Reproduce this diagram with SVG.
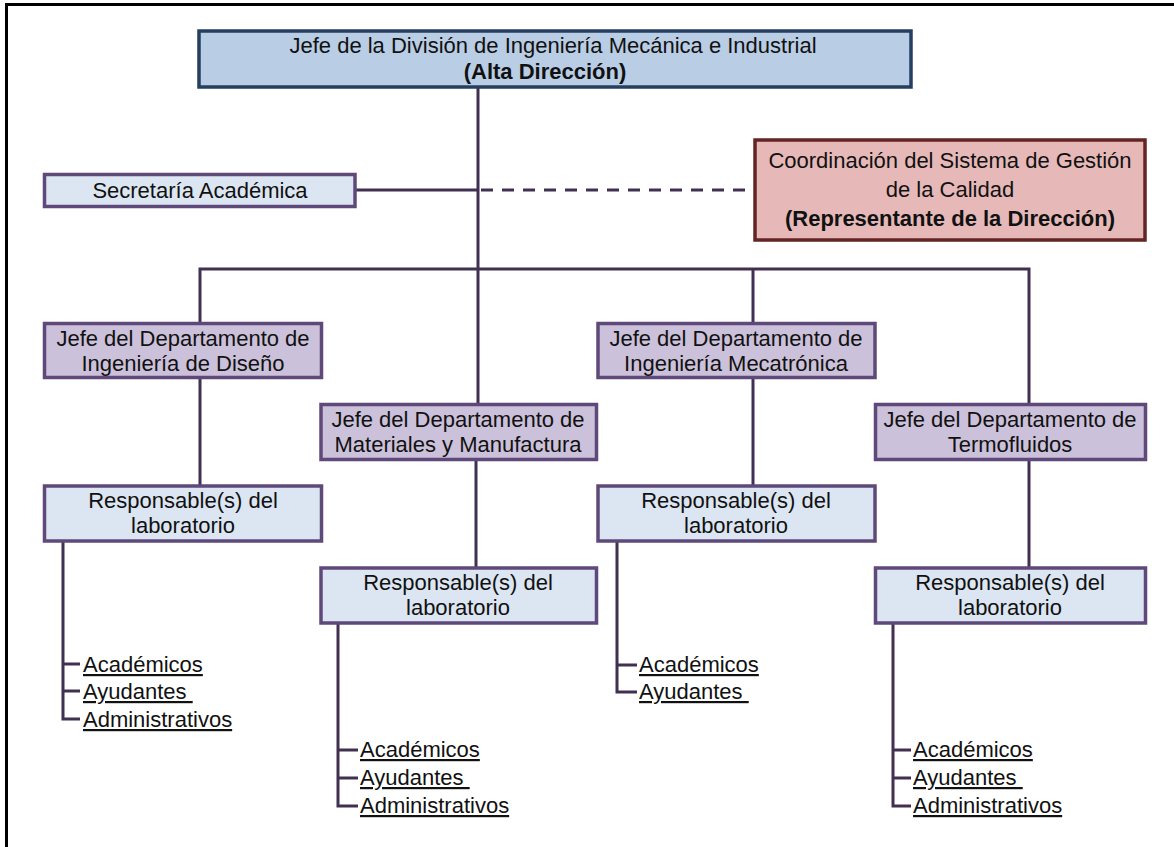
<svg xmlns="http://www.w3.org/2000/svg" width="1174" height="847" viewBox="0 0 1174 847">
  <style>
    text { font-family: "Liberation Sans", Arial, sans-serif; font-size: 22px; fill: #111; }
    .c { text-anchor: middle; }
    .b { font-weight: bold; }
    .u { text-decoration: underline; }
    .top { fill: #b9cde5; stroke: #243f60; stroke-width: 3.5; }
    .light { fill: #dce6f2; stroke: #5f497a; stroke-width: 3.5; }
    .dept { fill: #ccc1da; stroke: #5f497a; stroke-width: 3.5; }
    .rep { fill: #e6b9b8; stroke: #632523; stroke-width: 3.5; }
    .ln { fill: none; stroke: #403152; stroke-width: 3; }
    .dash { fill: none; stroke: #403152; stroke-width: 3; stroke-dasharray: 12 9; }
  </style>

  <rect width="1174" height="847" fill="#fff"/>
  <!-- page frame (top and left edges) -->
  <path d="M6.5 847 V4.5 H1174" fill="none" stroke="#000" stroke-width="3"/>

  <!-- connectors -->
  <g id="connectors">
    <path class="ln" d="M478 87 V404"/>
    <path class="ln" d="M356 190 H478"/>
    <path class="dash" d="M481 190 H754"/>
    <path class="ln" d="M200 323 V269 H1029 V404"/>
    <path class="ln" d="M753 269 V323"/>
    <path class="ln" d="M200 377 V486"/>
    <path class="ln" d="M476 460 V568"/>
    <path class="ln" d="M753 377 V486"/>
    <path class="ln" d="M1029 460 V568"/>
    <!-- staff lists -->
    <path class="ln" d="M63 541 V719 H80 M63 664 H80 M63 691 H80"/>
    <path class="ln" d="M338 623 V806 H358 M338 750 H358 M338 778 H358"/>
    <path class="ln" d="M617 541 V692 H637 M617 665 H637"/>
    <path class="ln" d="M893 623 V806 H911 M893 750 H911 M893 778 H911"/>
  </g>

  <g id="jefe-division">
    <rect class="top" x="199" y="31" width="712" height="56"/>
    <text class="c" x="553" y="53">Jefe de la División de Ingeniería Mecánica e Industrial</text>
    <text class="c b" x="545" y="79">(Alta Dirección)</text>
  </g>

  <g id="secretaria">
    <rect class="light" x="44.5" y="174.5" width="310.5" height="32"/>
    <text class="c" x="200" y="198">Secretaría Académica</text>
  </g>

  <g id="coordinacion">
    <rect class="rep" x="755" y="140" width="390" height="100"/>
    <text class="c" x="950" y="168">Coordinación del Sistema de Gestión</text>
    <text class="c" x="950" y="197">de la Calidad</text>
    <text class="c b" x="950" y="226">(Representante de la Dirección)</text>
  </g>

  <g id="depto-diseno">
    <rect class="dept" x="44.5" y="323.5" width="277" height="54"/>
    <text class="c" x="183" y="346">Jefe del Departamento de</text>
    <text class="c" x="183" y="371">Ingeniería de Diseño</text>
  </g>

  <g id="depto-materiales">
    <rect class="dept" x="321" y="404.5" width="275.5" height="55"/>
    <text class="c" x="458" y="427">Jefe del Departamento de</text>
    <text class="c" x="458" y="452">Materiales y Manufactura</text>
  </g>

  <g id="depto-mecatronica">
    <rect class="dept" x="598" y="323.5" width="277" height="54"/>
    <text class="c" x="736" y="346">Jefe del Departamento de</text>
    <text class="c" x="736" y="371">Ingeniería Mecatrónica</text>
  </g>

  <g id="depto-termofluidos">
    <rect class="dept" x="875.5" y="404.5" width="270" height="55"/>
    <text class="c" x="1010" y="427">Jefe del Departamento de</text>
    <text class="c" x="1010" y="452">Termofluidos</text>
  </g>

  <g id="lab-diseno">
    <rect class="light" x="44.5" y="486" width="277" height="55"/>
    <text class="c" x="183" y="508">Responsable(s) del</text>
    <text class="c" x="183" y="533">laboratorio</text>
  </g>

  <g id="lab-materiales">
    <rect class="light" x="321" y="568" width="275.5" height="55"/>
    <text class="c" x="458" y="590">Responsable(s) del</text>
    <text class="c" x="458" y="615">laboratorio</text>
  </g>

  <g id="lab-mecatronica">
    <rect class="light" x="598" y="486" width="277" height="55"/>
    <text class="c" x="736" y="508">Responsable(s) del</text>
    <text class="c" x="736" y="533">laboratorio</text>
  </g>

  <g id="lab-termofluidos">
    <rect class="light" x="875.5" y="568" width="270" height="55"/>
    <text class="c" x="1010" y="590">Responsable(s) del</text>
    <text class="c" x="1010" y="615">laboratorio</text>
  </g>

  <g id="personal-diseno">
    <text class="u" x="83" y="672">Académicos</text>
    <text class="u" x="83" y="699" xml:space="preserve">Ayudantes </text>
    <text class="u" x="83" y="727">Administrativos</text>
  </g>

  <g id="personal-materiales">
    <text class="u" x="360" y="757">Académicos</text>
    <text class="u" x="360" y="785" xml:space="preserve">Ayudantes </text>
    <text class="u" x="360" y="813">Administrativos</text>
  </g>

  <g id="personal-mecatronica">
    <text class="u" x="639" y="672">Académicos</text>
    <text class="u" x="639" y="699" xml:space="preserve">Ayudantes </text>
  </g>

  <g id="personal-termofluidos">
    <text class="u" x="913" y="757">Académicos</text>
    <text class="u" x="913" y="785" xml:space="preserve">Ayudantes </text>
    <text class="u" x="913" y="813">Administrativos</text>
  </g>
</svg>
